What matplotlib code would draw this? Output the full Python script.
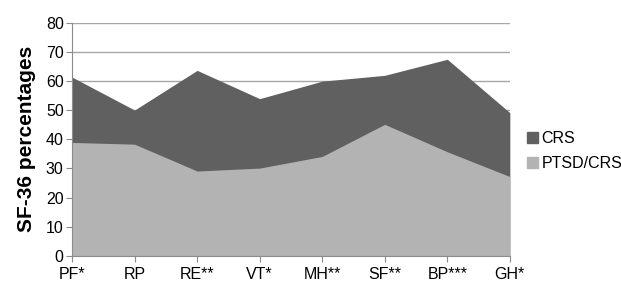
import matplotlib
matplotlib.use("Agg")
import matplotlib.pyplot as plt
from matplotlib.patches import Patch

# SF-36 scores per domain
domains = ["PF*", "RP", "RE**", "VT*", "MH**", "SF**", "BP***", "GH*"]
crs = [61.3, 50.0, 63.6, 53.9, 59.9, 61.9, 67.4, 49.1]
ptsd_crs = [38.9, 38.3, 29.1, 30.1, 34.1, 45.1, 35.7, 27.2]

plt.rcParams["font.family"] = ["Liberation Sans", "DejaVu Sans"]

fig = plt.figure(figsize=(6.21, 2.85), dpi=100)
ax = fig.add_axes([0.116, 0.102, 0.705, 0.819])

x = list(range(len(domains)))
ax.fill_between(x, crs, 0, color="#606060", linewidth=0, zorder=2)
ax.fill_between(x, ptsd_crs, 0, color="#b3b3b3", linewidth=0, zorder=3)

ax.set_xlim(0, len(domains) - 1)
ax.set_ylim(0, 80)
ax.set_yticks(range(0, 81, 10))
ax.set_xticks(x)
ax.set_xticklabels(domains)
ax.yaxis.grid(True, color="#a6a6a6", linewidth=1, zorder=1)
ax.set_axisbelow(True)

for side in ["top", "right"]:
    ax.spines[side].set_visible(False)
for side in ["left", "bottom"]:
    ax.spines[side].set_color("#8c8c8c")
    ax.spines[side].set_zorder(4)
ax.tick_params(axis="both", colors="#8c8c8c", labelcolor="black", labelsize=11.5, length=4)
ax.tick_params(axis="y", pad=2)
ax.tick_params(axis="x", pad=4)

ax.set_ylabel("SF-36 percentages", fontsize=15, fontweight="bold", labelpad=7)

handles = [Patch(color="#606060", label="CRS"), Patch(color="#b3b3b3", label="PTSD/CRS")]
fig.legend(handles=handles, loc="center left", bbox_to_anchor=(0.849, 0.47),
           frameon=False, fontsize=11.5, handlelength=0.65, handleheight=0.65,
           handletextpad=0.25, labelspacing=0.6, borderaxespad=0, borderpad=0)

fig.savefig("out.png", dpi=100)
